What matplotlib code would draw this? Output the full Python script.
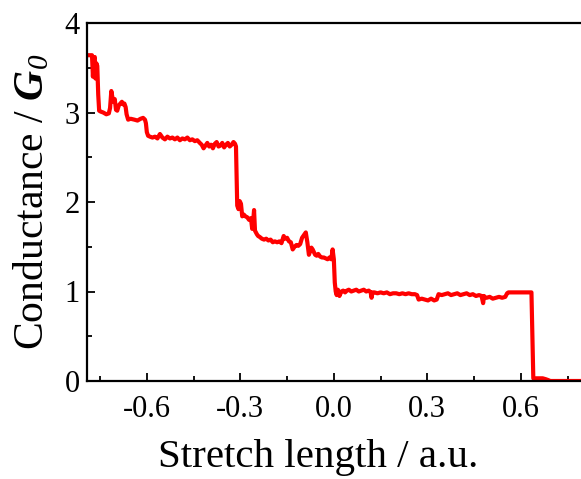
import matplotlib
matplotlib.use("Agg")
import matplotlib.pyplot as plt
from matplotlib.ticker import MultipleLocator

# Stretch length (a.u.) and conductance (G0)
stretch = [-0.792, -0.776, -0.773, -0.770, -0.767, -0.765, -0.762, -0.759, -0.756, -0.753,
           -0.748, -0.740, -0.730, -0.722, -0.718, -0.714, -0.711, -0.707, -0.703, -0.699,
           -0.695, -0.690, -0.685, -0.680, -0.676, -0.672, -0.668, -0.665, -0.660, -0.652,
           -0.640, -0.630, -0.620, -0.612, -0.606, -0.603, -0.600, -0.596, -0.590, -0.582,
           -0.574, -0.566, -0.558, -0.550, -0.542, -0.534, -0.526, -0.518, -0.510, -0.502,
           -0.494, -0.486, -0.478, -0.470, -0.462, -0.454, -0.446, -0.438, -0.430, -0.424,
           -0.418, -0.412, -0.406, -0.400, -0.394, -0.388, -0.382, -0.376, -0.370, -0.364,
           -0.358, -0.352, -0.346, -0.340, -0.334, -0.328, -0.322, -0.317, -0.314, -0.312,
           -0.310, -0.306, -0.302, -0.298, -0.294, -0.289, -0.284, -0.278, -0.272, -0.266,
           -0.262, -0.259, -0.256, -0.253, -0.250, -0.247, -0.243, -0.238, -0.231, -0.224,
           -0.217, -0.210, -0.203, -0.196, -0.189, -0.182, -0.175, -0.168, -0.161, -0.156,
           -0.150, -0.144, -0.138, -0.132, -0.126, -0.120, -0.114, -0.108, -0.102, -0.096,
           -0.090, -0.085, -0.080, -0.076, -0.072, -0.068, -0.064, -0.060, -0.055, -0.050,
           -0.044, -0.038, -0.032, -0.026, -0.020, -0.014, -0.008, -0.004, 0.000, 0.003,
           0.006, 0.009, 0.013, 0.018, 0.024, 0.030, 0.036, 0.042, 0.048, 0.056,
           0.064, 0.072, 0.080, 0.088, 0.096, 0.104, 0.112, 0.118, 0.121, 0.124,
           0.130, 0.140, 0.150, 0.160, 0.170, 0.180, 0.190, 0.200, 0.210, 0.220,
           0.230, 0.240, 0.250, 0.260, 0.267, 0.272, 0.282, 0.292, 0.302, 0.312,
           0.322, 0.330, 0.336, 0.346, 0.356, 0.366, 0.376, 0.386, 0.396, 0.406,
           0.416, 0.426, 0.436, 0.446, 0.456, 0.466, 0.474, 0.479, 0.482, 0.485,
           0.490, 0.500, 0.510, 0.520, 0.530, 0.540, 0.550, 0.556, 0.560, 0.570,
           0.580, 0.590, 0.600, 0.610, 0.620, 0.628, 0.634, 0.637, 0.640, 0.650,
           0.660, 0.670, 0.680, 0.688, 0.694, 0.720, 0.760, 0.800, 0.840]
conductance = [3.64, 3.64, 3.40, 3.60, 3.62, 3.38, 3.55, 3.52, 3.20, 3.02,
               3.01, 3.00, 2.98, 2.99, 3.05, 3.24, 3.18, 3.12, 3.15, 3.03,
               3.02, 3.08, 3.10, 3.12, 3.09, 3.10, 3.06, 2.98, 2.92, 2.93,
               2.92, 2.91, 2.93, 2.94, 2.92, 2.88, 2.78, 2.74, 2.73, 2.72,
               2.73, 2.71, 2.76, 2.72, 2.70, 2.73, 2.71, 2.72, 2.70, 2.72,
               2.69, 2.71, 2.70, 2.72, 2.69, 2.70, 2.68, 2.69, 2.66, 2.64,
               2.60, 2.63, 2.66, 2.62, 2.64, 2.60, 2.65, 2.67, 2.62, 2.63,
               2.66, 2.61, 2.64, 2.66, 2.62, 2.64, 2.67, 2.65, 2.62, 2.30,
               1.96, 1.92, 2.01, 1.98, 1.84, 1.86, 1.84, 1.83, 1.80, 1.82,
               1.70, 1.78, 1.91, 1.68, 1.66, 1.64, 1.62, 1.61, 1.59, 1.58,
               1.59, 1.57, 1.58, 1.55, 1.56, 1.55, 1.56, 1.54, 1.62, 1.59,
               1.60, 1.56, 1.55, 1.47, 1.50, 1.52, 1.51, 1.53, 1.60, 1.63,
               1.66, 1.55, 1.41, 1.45, 1.49, 1.47, 1.44, 1.41, 1.40, 1.42,
               1.39, 1.38, 1.38, 1.37, 1.36, 1.38, 1.36, 1.47, 1.36, 1.10,
               1.00, 0.96, 1.02, 0.95, 1.00, 1.01, 0.99, 1.01, 1.02, 1.00,
               1.01, 1.02, 1.00, 1.01, 1.02, 1.00, 1.01, 0.99, 0.93, 0.99,
               0.99, 0.98, 0.99, 0.98, 0.99, 0.97, 0.98, 0.98, 0.97, 0.98,
               0.97, 0.98, 0.97, 0.97, 0.96, 0.91, 0.92, 0.91, 0.90, 0.92,
               0.90, 0.91, 0.97, 0.96, 0.97, 0.98, 0.96, 0.97, 0.98, 0.96,
               0.97, 0.98, 0.96, 0.97, 0.95, 0.96, 0.95, 0.87, 0.95, 0.93,
               0.93, 0.94, 0.92, 0.93, 0.94, 0.93, 0.94, 0.98, 0.99, 0.99,
               0.99, 0.99, 0.99, 0.99, 0.99, 0.99, 0.99, 0.50, 0.03, 0.03,
               0.03, 0.03, 0.02, 0.01, 0.00, 0.00, 0.00, 0.00, 0.00]

x_ticks = [-0.6, -0.3, 0.0, 0.3, 0.6]
y_ticks = [0, 1, 2, 3, 4]

plt.rcParams['font.family'] = ['Liberation Serif', 'DejaVu Serif']
plt.rcParams['mathtext.fontset'] = 'custom'
plt.rcParams['mathtext.it'] = 'Liberation Serif:italic'
plt.rcParams['mathtext.cal'] = 'Liberation Serif:italic'
plt.rcParams['mathtext.bf'] = 'Liberation Serif:bold:italic'
plt.rcParams['mathtext.rm'] = 'Liberation Serif'

fig = plt.figure(figsize=(5.81, 4.79), dpi=100)
# plot area reaches the right edge of the (cropped) figure
ax = fig.add_axes([87/581, (479-381)/479, (581-87)/581, (381-23)/479])

ax.plot(stretch, conductance, color='#ff0000', lw=3.0, solid_joinstyle='round')

ax.set_xlim(-0.792, 0.793)
ax.set_ylim(0, 4)
ax.set_xticks(x_ticks)
ax.set_xticklabels([f"{v:.1f}" for v in x_ticks])
ax.set_yticks(y_ticks)
ax.xaxis.set_minor_locator(MultipleLocator(0.15))
ax.yaxis.set_minor_locator(MultipleLocator(0.5))
ax.tick_params(which='both', direction='in', top=False, right=False, labelsize=22, width=1.3)
ax.tick_params(which='major', length=6)
ax.tick_params(which='minor', length=3.5)
ax.tick_params(axis='x', pad=10)
ax.tick_params(axis='y', pad=5)
ax.spines['right'].set_visible(False)
for s in ax.spines.values():
    s.set_linewidth(1.6)

ax.set_xlabel('Stretch length / a.u.', fontsize=29.5)
ax.xaxis.set_label_coords((318-87)/494, -(467-381)/358, transform=ax.transAxes)
ax.xaxis.label.set_va('baseline')
ax.set_ylabel('Conductance / $\\mathbf{G}_{\\mathcal{0}}$', fontsize=30, labelpad=9)

fig.savefig('out.png', dpi=100)
